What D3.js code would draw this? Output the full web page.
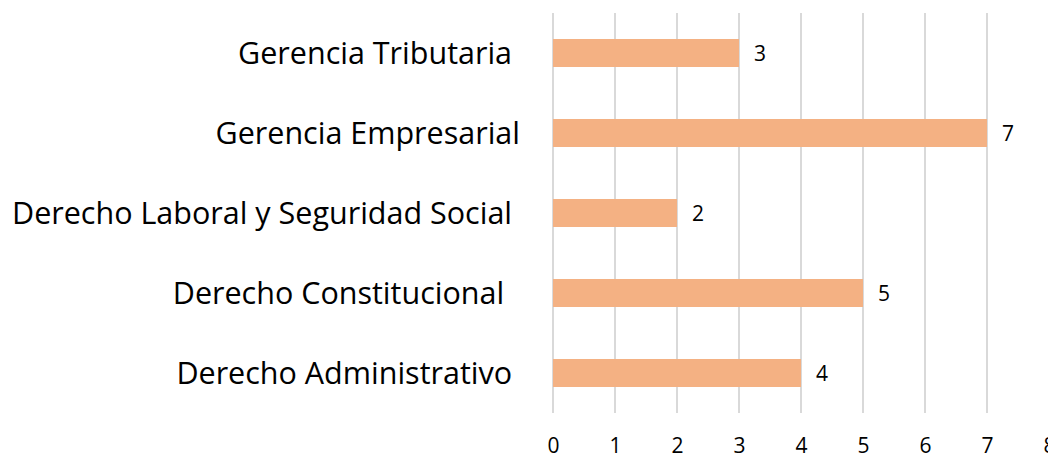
<!DOCTYPE html>
<html>
<head>
<meta charset="utf-8">
<script src="https://cdn.jsdelivr.net/npm/d3@7"></script>
<style>
  body { margin: 0; background: #fff; }
  text { font-family: "Open Sans", "Noto Sans", sans-serif; fill: #000; white-space: pre; }
</style>
</head>
<body>
<div id="chart"></div>
<script>
// Data (top to bottom)
var categories = ["Gerencia Tributaria ", "Gerencia Empresarial", "Derecho Laboral y Seguridad Social ", "Derecho Constitucional  ", "Derecho Administrativo "];
var values = [3, 7, 2, 5, 4];
var xTicks = [0, 1, 2, 3, 4, 5, 6, 7, 8];

var svgWidth = 1048;
var svgHeight = 458;
var margin = { top: 13, right: -1, bottom: 45, left: 553 };

var width = svgWidth - margin.left - margin.right;
var height = svgHeight - margin.top - margin.bottom;

var svg = d3.select("#chart")
  .append("svg")
  .attr("width", svgWidth)
  .attr("height", svgHeight);

var chartGroup = svg.append("g")
  .attr("transform", `translate(${margin.left}, ${margin.top})`);

var xScale = d3.scaleLinear().domain([0, 8]).range([0, width]);
var yScale = d3.scaleBand().domain(categories).range([0, height]).paddingInner(0.65).paddingOuter(0.325);

// gridlines
chartGroup.selectAll(".grid")
  .data(xTicks)
  .enter()
  .append("line")
  .attr("x1", function (d) { return xScale(d); })
  .attr("x2", function (d) { return xScale(d); })
  .attr("y1", 0)
  .attr("y2", height)
  .attr("stroke", "#d9d9d9")
  .attr("stroke-width", 2);

// x axis labels
var xAxis = d3.axisBottom(xScale).tickValues(xTicks).tickSize(0).tickPadding(25);
var xg = chartGroup.append("g")
  .attr("transform", `translate(0,${height})`)
  .call(xAxis);
xg.select(".domain").remove();
xg.selectAll("text")
  .attr("font-size", "21px")
  .attr("font-family", "'Open Sans', 'Noto Sans', sans-serif")
  .attr("fill", "#000");

// bars
chartGroup.selectAll("rect")
  .data(values)
  .enter()
  .append("rect")
  .attr("x", xScale(0))
  .attr("y", function (d, i) { return yScale(categories[i]); })
  .attr("width", function (d) { return xScale(d) - xScale(0); })
  .attr("height", yScale.bandwidth())
  .attr("fill", "#f4b183");

// value labels
chartGroup.selectAll(".value")
  .data(values)
  .enter()
  .append("text")
  .attr("class", "value")
  .attr("x", function (d) { return xScale(d) + 15; })
  .attr("y", function (d, i) { return yScale(categories[i]) + yScale.bandwidth() / 2; })
  .attr("dy", "0.36em")
  .attr("font-size", "21px")
  .text(function (d) { return d; });

// category labels
chartGroup.selectAll(".cat")
  .data(categories)
  .enter()
  .append("text")
  .attr("class", "cat")
  .attr("x", -33)
  .attr("y", function (d) { return yScale(d) + yScale.bandwidth() / 2; })
  .attr("dy", "0.36em")
  .attr("text-anchor", "end")
  .attr("font-size", "30.5px")
  .text(function (d) { return d; });
</script>
</body>
</html>
